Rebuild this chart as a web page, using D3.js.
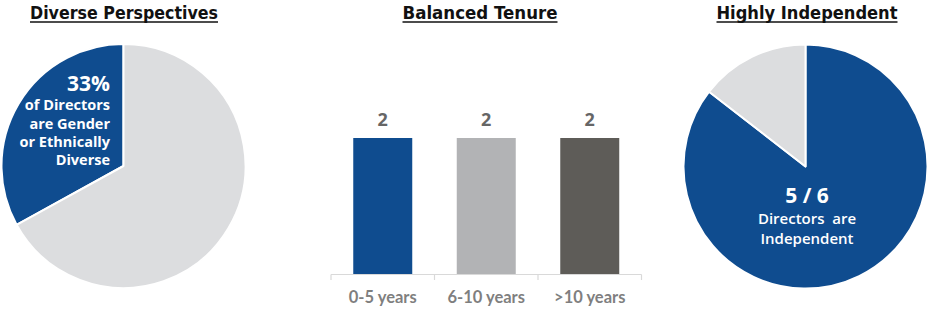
<!DOCTYPE html>
<html>
<head>
<meta charset="utf-8">
<script src="https://cdn.jsdelivr.net/npm/d3@7"></script>
<style>
  html, body { margin: 0; padding: 0; background: #fff; }
  svg { display: block; }
</style>
</head>
<body>
<svg id="chart" width="930" height="310"></svg>
<script>
// ---- Data ----
const titles = ["Diverse Perspectives", "Balanced Tenure", "Highly Independent"];

const diversityLabels = ["Diverse", "Not diverse"];
const diversityValues = [33, 67];
const diversityText = ["33%", "of Directors", "are Gender", "or Ethnically", "Diverse"];

const tenureCategories = ["0-5 years", "6-10 years", ">10 years"];
const tenureValues = [2, 2, 2];

const independenceLabels = ["Independent", "Not independent"];
const independenceValues = [85.5, 14.5];
const independenceText = ["5 / 6", "Directors  are", "Independent"];

// ---- Styles ----
const BLUE = "#0f4c8f";
const LIGHT = "#dcdddf";
const barColors = ["#0f4c8f", "#b2b3b5", "#5e5c58"];
const titleFont = "'DejaVu Sans', sans-serif";
const pieFont = "'Open Sans', sans-serif";
const bodyFont = "Lato, 'Open Sans', sans-serif";

const svg = d3.select("#chart");

// ---- Titles ----
const titleSpecs = [
  {cx: 124, w: 188},
  {cx: 480, w: 155},
  {cx: 807, w: 181}
];
titles.forEach((t, i) => {
  const s = titleSpecs[i];
  svg.append("text")
    .attr("x", s.cx).attr("y", 19)
    .attr("text-anchor", "middle")
    .attr("font-family", titleFont)
    .attr("font-weight", "bold")
    .attr("font-size", 17.5)
    .attr("textLength", s.w)
    .attr("lengthAdjust", "spacingAndGlyphs")
    .attr("fill", "#111")
    .text(t);
  svg.append("line")
    .attr("x1", s.cx - s.w / 2).attr("x2", s.cx + s.w / 2)
    .attr("y1", 22).attr("y2", 22)
    .attr("stroke", "#111").attr("stroke-width", 1.6);
});

// ---- Pie helper ----
function drawPie(cx, cy, r, values, colors, startAngle) {
  const pie = d3.pie().sort(null).value(d => d)
    .startAngle(startAngle).endAngle(startAngle + 2 * Math.PI);
  const arc = d3.arc().innerRadius(0).outerRadius(r);
  const g = svg.append("g").attr("transform", `translate(${cx},${cy})`);
  g.selectAll("path").data(pie(values)).join("path")
    .attr("d", arc)
    .attr("fill", (d, i) => colors[i])
    .attr("stroke", "#fff")
    .attr("stroke-width", 2)
    .attr("stroke-linejoin", "round");
  return g;
}

// Left pie
const leftTotal = d3.sum(diversityValues);
drawPie(123.5, 166, 122, diversityValues, [BLUE, LIGHT], -2 * Math.PI * diversityValues[0] / leftTotal);
const lt = svg.append("g").attr("font-family", pieFont).attr("font-weight", "bold").attr("fill", "#fff").attr("text-anchor", "end");
lt.append("text").attr("x", 110).attr("y", 91).attr("font-size", 21).text(diversityText[0]);
[110, 128.5, 147, 165].forEach((y, i) => {
  lt.append("text").attr("x", 110).attr("y", y).attr("font-size", 14.5).text(diversityText[i + 1]);
});

// Right pie
drawPie(805.5, 166.5, 122, independenceValues, [BLUE, LIGHT], 0);
const rt = svg.append("g").attr("font-family", pieFont).attr("font-weight", 600).attr("fill", "#fff").attr("text-anchor", "middle");
rt.append("text").attr("x", 807).attr("y", 203).attr("font-size", 21).attr("font-weight", "bold").style("white-space", "pre").text(independenceText[0]);
rt.append("text").attr("x", 807).attr("y", 224).attr("font-size", 15).style("white-space", "pre").text(independenceText[1]);
rt.append("text").attr("x", 807).attr("y", 244).attr("font-size", 15).text(independenceText[2]);

// ---- Bar chart ----
const x = d3.scaleBand().domain(tenureCategories)
  .range([331, 641.5]).paddingInner(0.43).paddingOuter(0.215);
const y = d3.scaleLinear().domain([0, 2.5]).range([274, 104]);

const bars = svg.append("g");
bars.selectAll("rect").data(tenureValues).join("rect")
  .attr("x", (d, i) => x(tenureCategories[i]))
  .attr("y", d => y(d))
  .attr("width", x.bandwidth())
  .attr("height", d => y(0) - y(d))
  .attr("fill", (d, i) => barColors[i]);

bars.selectAll("text.val").data(tenureValues).join("text")
  .attr("class", "val")
  .attr("x", (d, i) => x(tenureCategories[i]) + x.bandwidth() / 2)
  .attr("y", d => y(d) - 12)
  .attr("text-anchor", "middle")
  .attr("font-family", pieFont)
  .attr("font-weight", "bold")
  .attr("font-size", 18)
  .attr("fill", "#666")
  .text(d => d);

// axis line + boundary ticks
const ax = svg.append("g").attr("stroke", "#d9d9d9").attr("stroke-width", 1.2);
ax.append("line").attr("x1", x.range()[0]).attr("x2", x.range()[1]).attr("y1", y(0) + 0.5).attr("y2", y(0) + 0.5);
const bounds = tenureCategories.map(c => x(c) - x.step() * x.paddingInner() / 2).concat([x.range()[1]]);
ax.selectAll("line.tick").data(bounds).join("line")
  .attr("class", "tick")
  .attr("x1", d => d).attr("x2", d => d)
  .attr("y1", y(0) + 0.5).attr("y2", y(0) + 6);

svg.append("g").selectAll("text").data(tenureCategories).join("text")
  .attr("x", d => x(d) + x.bandwidth() / 2)
  .attr("y", 303)
  .attr("text-anchor", "middle")
  .attr("font-family", bodyFont)
  .attr("font-weight", "bold")
  .attr("font-size", 16.5)
  .attr("fill", "#7f7f7f")
  .text(d => d);
</script>
</body>
</html>
